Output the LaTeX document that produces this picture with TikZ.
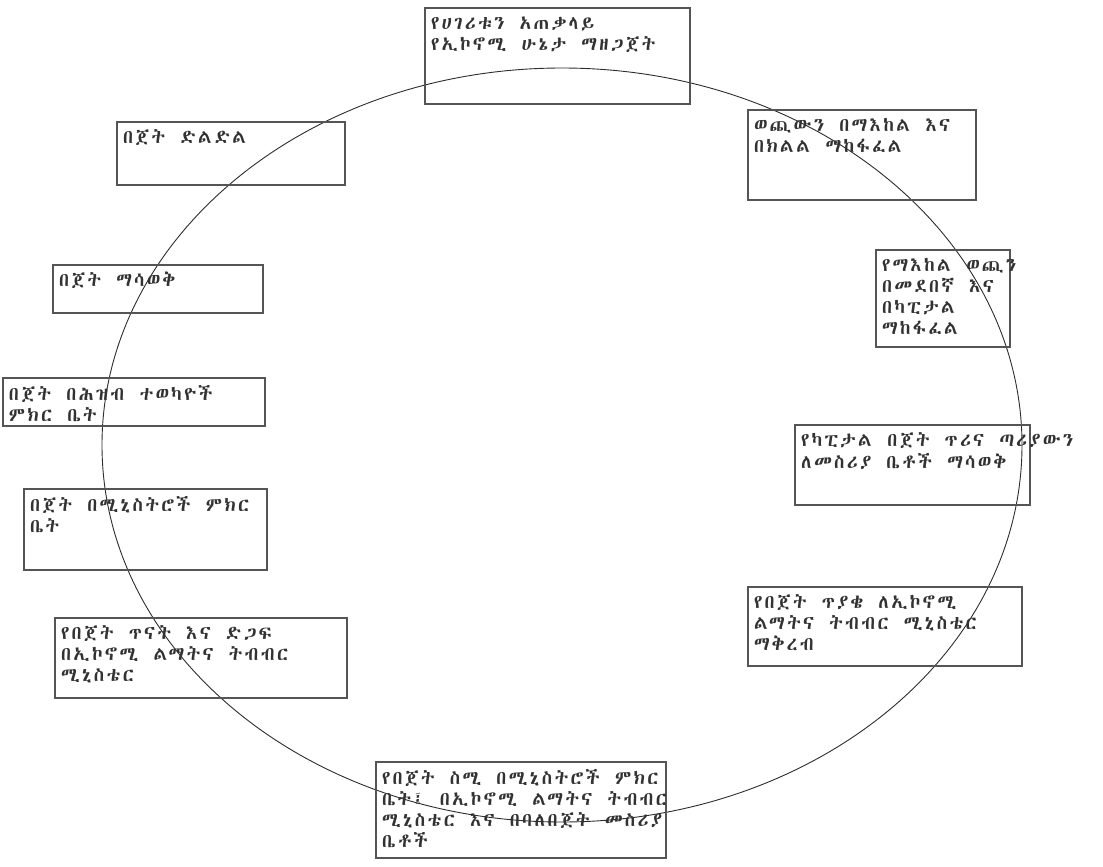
\documentclass[tikz,border=0pt]{standalone}
\usepackage{fontspec}
\IfFontExistsTF{Abyssinica SIL}{\newfontfamily\ethfont[LetterSpace=12,WordSpace=1.4]{Abyssinica SIL}}{%
  \IfFontExistsTF{FreeSerif}{\newfontfamily\ethfont[LetterSpace=12,WordSpace=1.4]{FreeSerif}}{%
    \IfFontExistsTF{FreeSans}{\newfontfamily\ethfont[LetterSpace=12,WordSpace=1.4]{FreeSans}}{%
      \newfontfamily\ethfont{DejaVu Sans}}}}
\usepackage{tikz}
\usetikzlibrary{shapes,positioning}
\usepackage{xcolor}
\definecolor{bcgray}{RGB}{85,85,85}
\definecolor{bcdark}{RGB}{45,45,45}
\definecolor{bctext}{RGB}{50,50,50}
\tikzstyle{stagebox} = [rectangle, draw=bcgray, line width=1.1pt, inner xsep=6pt, inner ysep=7pt, text=bctext, font=\ethfont\fontsize{19}{21}\selectfont]
\tikzstyle{cycleline} = [ellipse, draw=bcdark, line width=0.9pt, inner sep=0pt]
% box text: width, height, lines (top left, no wrapping)
\newcommand{\stagetext}[3]{\parbox[c][\dimexpr#2pt-14pt\relax][t]{\dimexpr#1pt-12pt\relax}{\begin{tabular}[t]{@{}l@{}}#3\end{tabular}}}

\begin{document}
\begin{tikzpicture}[x=1pt, y=-1pt]
\useasboundingbox (0,0) rectangle (1103,867);
% budget cycle
\node (cycle) [cycleline, minimum width=920, minimum height=754] at (562,445) {};

% right half, clockwise
\node (economy) [stagebox] at (557.5,56) {\stagetext{265}{96}{የሀገሪቱን አጠቃላይ\\የኢኮኖሚ ሁኔታ ማዘጋጀት}};
\node (split) [stagebox] at (862,155) {\stagetext{228}{90}{ወጪውን በማእከል እና\\በክልል ማከፋፈል}};
\node (central) [stagebox] at (943,298.5) {\stagetext{134}{97}{የማእከል ወጪን\\በመደበኛ እና\\በካፒታል\\ማከፋፈል}};
\node (ceiling) [stagebox] at (912.5,465) {\stagetext{235}{80}{የካፒታል በጀት ጥሪና ጣሪያውን\\ለመስሪያ ቤቶች ማሳወቅ}};
\node (request) [stagebox] at (885,626.5) {\stagetext{274}{79}{የበጀት ጥያቄ ለኢኮኖሚ\\ልማትና ትብብር ሚኒስቴር\\ማቅረብ}};
\node (hearing) [stagebox] at (521,810) {\stagetext{290}{96}{የበጀት ስሚ በሚኒስትሮች ምክር\\ቤት፤ በኢኮኖሚ ልማትና ትብብር\\ሚኒስቴር እና በባለበጀት መስሪያ\\ቤቶች}};

% left half, bottom to top
\node (study) [stagebox] at (201,658) {\stagetext{292}{80}{የበጀት ጥናት እና ድጋፍ\\በኢኮኖሚ ልማትና ትብብር\\ሚኒስቴር}};
\node (council) [stagebox] at (145.5,529.5) {\stagetext{243}{81}{በጀት በሚኒስትሮች ምክር\\ቤት}};
\node (parliament) [stagebox] at (134,402) {\stagetext{262}{48}{በጀት በሕዝብ ተወካዮች\\ምክር ቤት}};
\node (notify) [stagebox] at (158,289) {\stagetext{210}{48}{በጀት ማሳወቅ}};
\node (allocate) [stagebox] at (231,153.5) {\stagetext{228}{63}{በጀት ድልድል}};
\end{tikzpicture}
\end{document}
